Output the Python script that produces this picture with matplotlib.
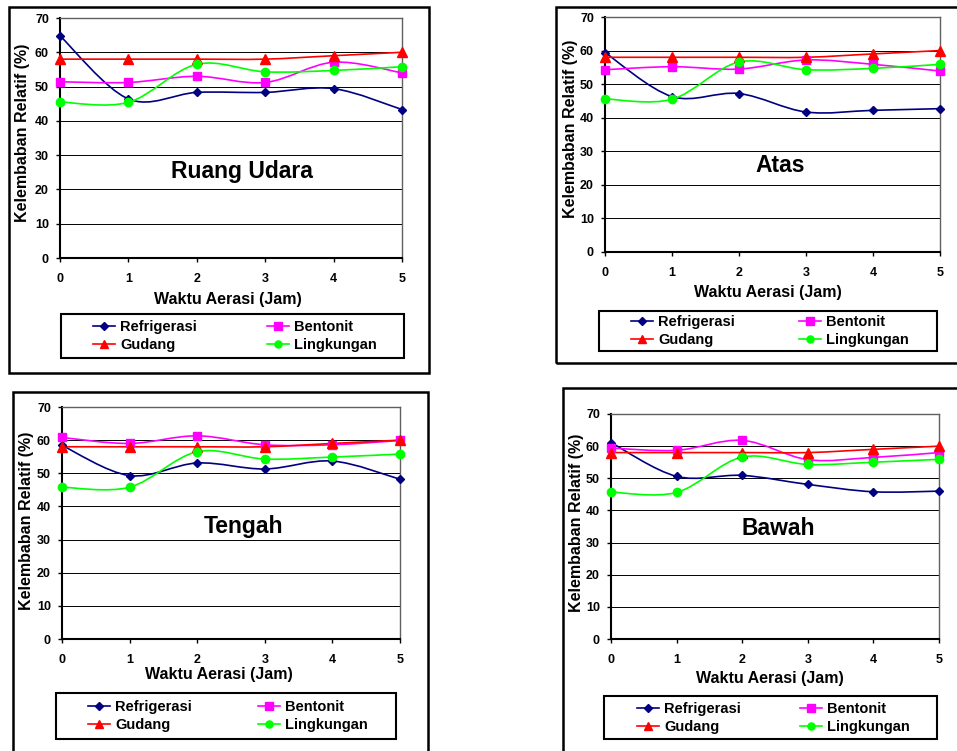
import matplotlib
matplotlib.use('Agg')
import matplotlib.pyplot as plt
from matplotlib.path import Path
from matplotlib.patches import PathPatch, Rectangle
from matplotlib.lines import Line2D

plt.rcParams['font.family'] = ['Liberation Sans', 'DejaVu Sans']
plt.rcParams['font.weight'] = 'bold'

# ---------------- data ----------------
hours = [0, 1, 2, 3, 4, 5]
series_names = ['Refrigerasi', 'Bentonit', 'Gudang', 'Lingkungan']
panel_titles = ['Ruang Udara', 'Atas', 'Tengah', 'Bawah']
x_label = 'Waktu Aerasi (Jam)'
y_label = 'Kelembaban Relatif (%)'

ruang_refrigerasi = [64.8, 46.4, 48.3, 48.3, 49.4, 43.3]
ruang_bentonit    = [51.4, 51.2, 53.0, 51.2, 57.1, 54.0]
ruang_gudang      = [58.0, 58.0, 58.0, 58.0, 59.0, 60.0]
ruang_lingkungan  = [45.5, 45.4, 56.5, 54.3, 54.7, 55.8]

atas_refrigerasi = [59.4, 46.3, 47.2, 41.7, 42.2, 42.7]
atas_bentonit    = [54.3, 55.2, 54.5, 57.2, 55.9, 53.9]
atas_gudang      = [58.0, 58.0, 58.0, 58.0, 59.0, 60.0]
atas_lingkungan  = [45.6, 45.5, 56.6, 54.3, 54.7, 55.9]

tengah_refrigerasi = [58.4, 49.3, 53.1, 51.3, 53.7, 48.2]
tengah_bentonit    = [60.8, 59.0, 61.3, 58.6, 58.6, 59.9]
tengah_gudang      = [58.0, 58.0, 58.0, 58.0, 59.0, 60.0]
tengah_lingkungan  = [45.8, 45.8, 56.5, 54.3, 54.9, 55.8]

bawah_refrigerasi = [61.1, 50.6, 50.9, 48.1, 45.8, 46.0]
bawah_bentonit    = [59.4, 58.7, 61.8, 55.8, 56.5, 58.0]
bawah_gudang      = [58.0, 58.0, 58.0, 58.0, 59.0, 60.0]
bawah_lingkungan  = [45.7, 45.6, 56.6, 54.3, 55.0, 55.9]

panel_data = [
    [ruang_refrigerasi, ruang_bentonit, ruang_gudang, ruang_lingkungan],
    [atas_refrigerasi, atas_bentonit, atas_gudang, atas_lingkungan],
    [tengah_refrigerasi, tengah_bentonit, tengah_gudang, tengah_lingkungan],
    [bawah_refrigerasi, bawah_bentonit, bawah_gudang, bawah_lingkungan],
]

# ---------------- styles / layout ----------------
styles = {
    'Refrigerasi': dict(color='#000080', marker='D', ms=4.5),
    'Bentonit':    dict(color='#FF00FF', marker='s', ms=6),
    'Gudang':      dict(color='#FF0000', marker='^', ms=7),
    'Lingkungan':  dict(color='#00FF00', marker='o', ms=6),
}

W, H = 957, 751
fig = plt.figure(figsize=(W / 100, H / 100), dpi=100)


def fx(px):
    return px / W


def fy(py):
    return 1 - py / H


layouts = [
    dict(ax=(60, 18, 402, 258), frame=(9, 7, 429, 373), lbox=(61, 314, 404, 358),
         lent=(93, 377, 336), xl=(228, 300), yl=(23, 133), title=(0.532, 0.3625)),
    dict(ax=(605, 17, 940, 252), frame=(556, 7, 975, 363), lbox=(599, 311, 937, 351),
         lent=(631, 909, 331), xl=(768, 293), yl=(570, 129), title=(0.522, 0.370)),
    dict(ax=(62, 407, 400, 639), frame=(13, 392, 428, 775), lbox=(56, 693, 396, 739),
         lent=(88, 368, 716), xl=(219, 675), yl=(27, 521), title=(0.536, 0.483)),
    dict(ax=(611, 414, 939, 639), frame=(563, 388, 975, 775), lbox=(604, 696, 937, 739),
         lent=(637, 910, 718), xl=(770, 679), yl=(577, 523), title=(0.509, 0.493)),
]


def smooth_path(xs, ys):
    n = len(xs)
    verts = [(xs[0], ys[0])]
    codes = [Path.MOVETO]
    for i in range(n - 1):
        i0 = max(i - 1, 0)
        i3 = min(i + 2, n - 1)
        c1 = (xs[i] + (xs[i + 1] - xs[i0]) / 6, ys[i] + (ys[i + 1] - ys[i0]) / 6)
        c2 = (xs[i + 1] - (xs[i3] - xs[i]) / 6, ys[i + 1] - (ys[i3] - ys[i]) / 6)
        verts += [c1, c2, (xs[i + 1], ys[i + 1])]
        codes += [Path.CURVE4] * 3
    return Path(verts, codes)


def rect_fig(l, t, r, b, lw):
    fig.patches.append(Rectangle((fx(l), fy(b)), (r - l) / W, (b - t) / H,
                                 transform=fig.transFigure, fill=False,
                                 edgecolor='black', linewidth=lw, zorder=0))


for title, data, lay in zip(panel_titles, panel_data, layouts):
    l, t, r, b = lay['ax']
    ax = fig.add_axes([fx(l), fy(b), (r - l) / W, (b - t) / H])
    ax.set_xlim(0, 5)
    ax.set_ylim(0, 70)
    ax.set_xticks(hours)
    ax.set_yticks(range(0, 71, 10))
    ax.grid(axis='y', color='black', linewidth=0.7)
    ax.set_axisbelow(True)
    for s in ['left', 'bottom']:
        ax.spines[s].set_color('black')
        ax.spines[s].set_linewidth(1.5)
    for s in ['top', 'right']:
        ax.spines[s].set_color('#606060')
        ax.spines[s].set_linewidth(1.0)
    ax.tick_params(axis='both', direction='out', length=3, width=1,
                   labelsize=9, colors='black')
    ax.tick_params(axis='x', pad=8)
    ax.tick_params(axis='y', pad=5)
    for lab in ax.get_xticklabels() + ax.get_yticklabels():
        lab.set_fontweight('bold')

    handles = {}
    for name, vals in zip(series_names, data):
        st = styles[name]
        patch = PathPatch(smooth_path(hours, vals), fill=False,
                          edgecolor=st['color'], linewidth=1.2, clip_on=False, zorder=3)
        ax.add_patch(patch)
        ax.plot(hours, vals, linestyle='none', marker=st['marker'], ms=st['ms'],
                color=st['color'], markeredgecolor=st['color'], clip_on=False, zorder=4)
        handles[name] = Line2D([], [], color=st['color'], linewidth=1.2,
                               marker=st['marker'], ms=st['ms'] * 0.85,
                               markeredgecolor=st['color'])

    ax.text(lay['title'][0], lay['title'][1], title, transform=ax.transAxes,
            ha='center', va='center', fontsize=16.5, fontweight='bold')

    fig.text(fx(lay['xl'][0]), fy(lay['xl'][1]), x_label, ha='center', va='center',
             fontsize=11.5, fontweight='bold')
    fig.text(fx(lay['yl'][0]), fy(lay['yl'][1]), y_label, ha='center', va='center',
             rotation=90, fontsize=11.5, fontweight='bold')

    x0, x1, yc = lay['lent']
    order = ['Refrigerasi', 'Gudang', 'Bentonit', 'Lingkungan']
    ax.legend([handles[n] for n in order], order, ncol=2, numpoints=1,
              loc='center', bbox_to_anchor=(fx(x0), fy(yc) - 0.02, (x1 - x0) / W, 0.04),
              bbox_transform=fig.transFigure, mode='expand', frameon=False,
              borderpad=0, borderaxespad=0, handlelength=1.5, handletextpad=0.35,
              labelspacing=0.3, prop=dict(weight='bold', size=10.5))

    rect_fig(*lay['lbox'], lw=1.5)
    rect_fig(*lay['frame'], lw=1.8)

fig.savefig('out.png', dpi=100)
